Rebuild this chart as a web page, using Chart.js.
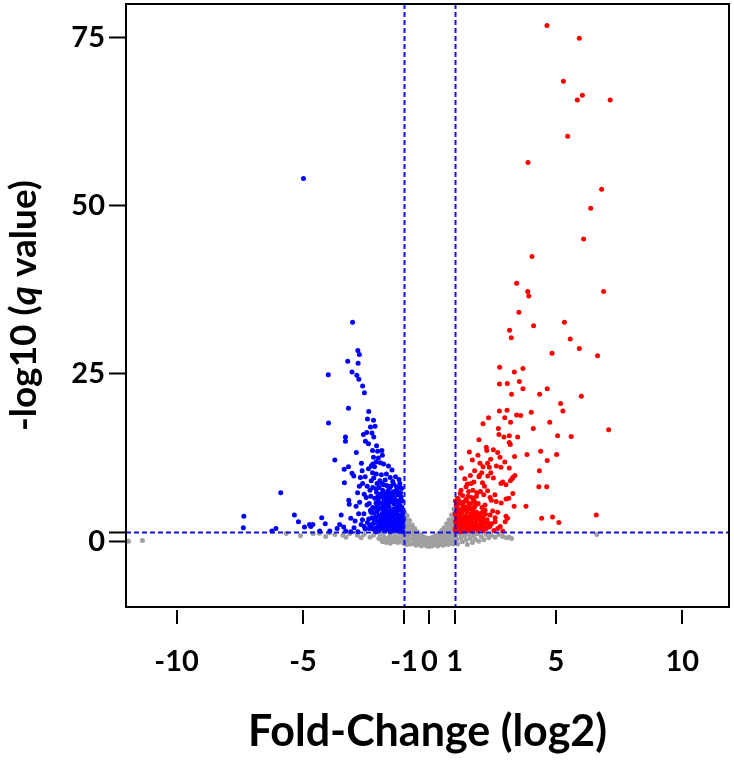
<!DOCTYPE html>
<html><head><meta charset="utf-8">
<script src="https://cdn.jsdelivr.net/npm/chart.js@4.4.1/dist/chart.umd.min.js"></script>
<style>html,body{margin:0;padding:0;background:#fff;}#wrap{width:734px;height:763px;}</style>
</head><body><div id="wrap"><canvas id="c" width="734" height="763"></canvas></div>
<script>
const xTickValues = [-10, -5, -1, 0, 1, 5, 10];
const xTickLabels = ['-10', '-5', '-1', '0', '1', '5', '10'];
const yTickValues = [0, 1.3, 25, 50, 75];
const yTickLabels = ['0', '', '25', '50', '75'];
const foldChangeCut = [-1, 1];
const qValueCut = [1.3];
const xTitle = 'Fold-Change (log2)';
const yTitleParts = ['-log10 (', 'q', ' value)'];

// down-regulated (blue)
const downPoints = [
[-4.98,54.0],[-3.04,32.6],[-2.83,28.4],[-2.77,27.8],[-3.23,26.8],[-2.82,26.5],[-4.00,24.8],[-3.06,25.2],[-2.87,24.7],[-2.79,24.1],
[-2.64,23.1],[-2.57,22.1],[-3.20,19.8],[-2.40,19.3],[-2.45,18.2],[-2.21,18.0],[-3.99,17.6],[-2.33,17.0],[-2.15,17.1],[-2.61,15.9],
[-2.48,16.2],[-2.27,16.1],[-2.20,15.5],[-3.32,15.5],[-3.32,14.9],[-2.53,14.9],[-2.41,14.5],[-2.09,14.2],[-2.89,13.2],[-2.25,13.5],
[-2.05,13.4],[-1.88,13.5],[-1.86,12.8],[-2.21,12.5],[-2.02,12.4],[-3.74,12.1],[-2.11,11.8],[-1.94,11.7],[-2.24,11.5],[-2.30,11.2],
[-2.17,11.1],[-1.81,11.5],[-3.20,11.1],[-3.37,10.7],[-3.06,10.1],[-2.99,9.7],[-2.69,11.6],[-2.66,10.5],[-2.73,9.5],[-2.54,9.6],
[-2.41,10.8],[-2.25,10.2],[-2.10,10.0],[-1.90,9.9],[-1.70,10.0],[-1.55,9.5],[-3.36,8.7],[-2.64,8.6],[-2.46,8.2],[-2.77,8.2],
[-2.24,8.0],[-1.99,8.0],[-1.82,8.4],[-1.69,8.3],[-1.53,8.2],[-1.42,8.5],[-2.84,7.2],[-2.58,7.0],[-2.09,7.3],[-1.89,7.0],
[-1.74,7.1],[-1.53,7.2],[-1.40,7.4],[-1.27,7.3],[-3.19,6.1],[-2.76,5.8],[-2.47,5.4],[-3.17,5.5],[-2.11,5.7],[-1.85,5.6],
[-1.66,5.5],[-1.40,5.7],[-1.18,6.1],[-2.80,4.1],[-2.59,4.1],[-2.31,4.3],[-2.04,4.7],[-1.75,4.0],[-1.55,4.5],[-1.35,4.6],
[-1.12,4.7],[-1.07,4.0],[-3.49,3.9],[-3.11,3.4],[-2.94,3.0],[-5.34,3.9],[-5.18,2.9],[-4.69,2.2],[-4.61,2.5],[-4.26,3.5],
[-4.12,2.6],[-3.94,1.5],[-3.65,1.9],[-3.55,2.5],[-3.39,2.1],[-3.31,1.5],[-3.11,1.4],[-2.98,2.0],[-2.83,1.4],[-2.70,2.5],
[-2.54,1.8],[-2.37,1.9],[-2.15,1.5],[-1.91,2.0],[-1.71,1.8],[-1.45,2.5],[-1.27,1.5],[-1.11,3.0],[-5.88,7.2],[-7.34,3.7],
[-7.36,2.0],[-6.23,1.5],[-6.07,1.9],[-4.94,2.1],[-4.74,2.5],[-4.34,1.5],
[-1.05,1.4],[-1.08,2.1],[-1.06,2.8],[-1.10,3.5],[-1.04,4.3],[-1.09,5.1],[-1.13,1.8],[-1.16,2.5],[-1.19,3.2],[-1.15,3.9],
[-1.22,4.6],[-1.18,5.4],[-1.21,1.5],[-1.26,2.2],[-1.28,2.9],[-1.24,3.6],[-1.30,4.2],[-1.27,5.0],[-1.33,1.9],[-1.36,2.6],
[-1.38,3.3],[-1.35,4.0],[-1.41,4.8],[-1.39,5.5],[-1.44,1.6],[-1.47,2.3],[-1.49,3.0],[-1.46,3.7],[-1.52,4.4],[-1.50,6.2],
[-1.55,1.4],[-1.58,2.0],[-1.60,2.7],[-1.57,3.4],[-1.62,4.1],[-1.59,5.1],[-1.65,1.7],[-1.68,2.4],[-1.71,3.1],[-1.67,3.8],
[-1.73,4.6],[-1.70,5.8],[-1.76,1.5],[-1.79,2.2],[-1.81,2.9],[-1.78,3.5],[-1.84,4.3],[-1.80,6.3],[-1.87,1.9],[-1.90,2.6],
[-1.92,3.3],[-1.89,4.0],[-1.95,4.9],[-1.93,6.6],[-1.98,1.6],[-2.01,2.3],[-2.03,3.0],[-2.00,3.8],[-2.06,5.2],[-2.02,6.0],
[-2.10,1.4],[-2.13,2.0],[-2.15,2.8],[-2.12,3.6],[-2.18,4.9],[-2.16,6.4],[-2.22,1.8],[-2.25,2.6],[-2.28,3.5],[-2.24,5.0],
[-2.32,6.7],[-2.36,2.3],[-2.40,3.3],[-2.38,5.6],[-1.12,6.6],[-1.25,6.9],[-1.37,6.4],[-1.63,6.8],[-1.85,7.6],[-2.07,8.6],
[-1.30,8.1],[-1.58,7.9],[-1.96,9.0],[-1.20,9.2],[-1.75,9.1],[-2.20,9.4],[-1.48,10.6],[-1.62,11.2],[-2.35,7.6],[-2.50,6.5],
[-2.65,3.2],[-2.90,5.2],[-2.45,2.8],[-2.58,2.2],
[-1.07,6.0],[-1.14,7.2],[-1.09,7.9],[-1.17,8.6],[-1.23,5.8],[-1.32,5.9],[-1.29,7.6],[-1.43,6.9],[-1.45,8.9],[-1.54,5.8],
[-1.56,6.5],[-1.66,6.2],[-1.64,7.5],[-1.77,5.2],[-1.76,6.8],[-1.86,5.0],[-1.94,5.7],[-1.98,7.0],[-2.05,6.6],[-2.08,4.4],
[-2.20,4.2],[-2.11,7.8],[-1.10,1.9],[-1.20,2.5],[-1.32,3.0],[-1.43,4.2],[-1.53,1.9],[-1.63,3.0],[-1.74,2.7],[-1.86,3.7],
[-1.96,2.8],[-2.07,1.8],[-2.19,3.2],[-2.30,2.0],[-2.33,4.6],[-1.15,8.0],[-1.34,9.6],[-1.88,8.6],[-2.30,9.0],[-1.03,3.2]
];

// up-regulated (red)
const upPoints = [
[4.65,76.8],[5.93,74.9],[5.30,68.5],[6.05,66.4],[5.85,65.7],[7.15,65.7],[5.47,60.3],[3.90,56.4],[6.81,52.4],[6.38,49.6],
[6.10,45.0],[4.06,42.4],[3.45,38.4],[3.89,37.2],[6.89,37.2],[3.93,36.5],[3.54,34.1],[4.12,32.1],[5.34,32.6],[3.17,31.4],
[3.24,30.3],[5.57,30.1],[5.93,28.7],[6.65,27.6],[4.85,28.0],[2.78,25.9],[3.36,25.2],[3.70,25.7],[2.77,23.4],[3.08,23.5],
[3.56,23.8],[3.70,22.7],[3.25,21.9],[4.36,21.9],[4.66,22.7],[6.01,21.6],[5.19,20.5],[5.28,19.4],[2.77,19.4],[3.07,19.5],
[4.03,19.2],[2.34,18.4],[2.98,18.4],[3.45,18.8],[3.61,18.7],[2.12,17.5],[3.21,17.7],[4.76,17.7],[2.73,16.8],[4.11,16.8],
[7.09,16.6],[2.75,15.9],[2.95,15.5],[3.16,15.7],[3.49,15.5],[5.07,15.7],[5.61,15.6],[1.96,15.1],[3.16,14.7],[3.20,14.4],
[2.27,13.5],[2.53,13.6],[2.70,13.2],[1.92,12.8],[2.42,12.2],[2.79,12.5],[2.98,11.8],[3.37,12.6],[3.86,12.9],[4.40,13.4],
[5.03,12.9],[4.66,12.0],[2.00,11.6],[2.30,11.6],[2.12,11.1],[2.37,11.0],[2.65,11.2],[2.83,11.0],[3.16,10.9],[1.79,10.5],
[2.07,10.2],[2.43,10.2],[3.38,9.8],[4.35,10.5],[1.62,9.8],[1.96,9.6],[2.31,9.7],[2.53,9.4],[3.27,9.3],[1.76,8.8],
[2.10,8.7],[2.90,8.8],[3.20,9.0],[3.30,9.5],[4.33,8.1],[4.64,8.1],[1.45,8.1],[1.72,7.6],[2.02,7.4],[2.30,7.5],
[2.83,8.6],[3.03,8.4],[1.53,6.7],[1.86,6.7],[2.15,6.9],[2.40,6.5],[2.59,6.9],[3.30,7.1],[1.48,6.0],[1.78,5.9],
[2.45,6.1],[2.64,5.9],[2.84,5.7],[3.14,6.4],[3.03,6.3],[3.35,5.2],[3.82,5.2],[2.20,4.6],[2.50,4.5],[2.70,4.3],
[3.09,3.4],[3.03,3.7],[6.60,3.9],[4.44,3.4],[4.87,3.6],[5.12,2.8],[2.20,3.0],[2.40,2.3],[2.60,2.9],[2.80,2.2],[3.00,2.9],
[1.04,1.5],[1.06,2.2],[1.03,2.9],[1.08,3.6],[1.05,4.3],[1.10,5.0],[1.14,1.8],[1.17,2.5],[1.13,3.2],[1.19,3.9],
[1.16,4.7],[1.21,5.6],[1.25,1.4],[1.28,2.1],[1.24,2.8],[1.30,3.5],[1.27,4.2],[1.33,5.2],[1.36,1.7],[1.39,2.4],
[1.35,3.1],[1.42,3.8],[1.38,4.6],[1.44,6.2],[1.47,1.5],[1.50,2.2],[1.46,2.9],[1.53,3.6],[1.49,4.4],[1.56,5.4],
[1.58,1.8],[1.61,2.5],[1.57,3.2],[1.64,4.0],[1.60,4.9],[1.67,6.5],[1.69,1.5],[1.72,2.2],[1.68,2.9],[1.75,3.7],
[1.71,4.5],[1.80,1.9],[1.83,2.7],[1.79,3.4],[1.86,4.3],[1.82,5.3],[1.91,1.6],[1.94,2.4],[1.90,3.2],[1.97,4.1],
[1.93,5.6],[2.02,2.0],[2.05,2.9],[2.01,3.8],[2.08,5.0],[2.13,1.5],[2.16,2.6],[2.12,3.5],[2.20,5.4],[2.25,1.9],
[2.28,3.2],[2.36,2.1],[2.40,3.9],[2.55,1.6],[2.70,1.9],[2.90,1.5],[1.12,6.4],[1.22,7.1],[1.31,6.8],[1.55,7.4],
[1.74,6.2],[1.88,7.2],[2.18,8.2],[1.65,8.6],[1.40,9.3],[1.98,9.8],[1.26,10.9],[1.70,12.1],[2.25,14.0],[1.58,13.3],
[1.02,1.8],[1.09,2.6],[1.07,3.3],[1.02,4.0],[1.12,4.6],[1.06,5.4],[1.03,6.0],[1.19,2.0],[1.22,3.4],[1.23,4.4],
[1.18,6.0],[1.31,1.9],[1.33,2.6],[1.29,4.8],[1.35,5.8],[1.41,2.0],[1.43,3.4],[1.41,5.1],[1.52,1.9],[1.55,3.1],
[1.54,4.8],[1.63,1.6],[1.66,3.5],[1.64,5.6],[1.74,2.6],[1.77,4.1],[1.77,5.0],[1.86,2.2],[1.88,3.7],[1.98,1.8],
[1.99,3.3],[2.08,2.4],[2.10,4.3],[2.19,2.1],[2.22,4.0],[2.32,2.7],[2.46,2.6],[2.60,3.5],[1.25,7.6],[1.50,8.5]
];

// not significant (grey)
const nsPoints = [
[-11.90,0.0],[-11.35,0.1],
[-5.66,1.15],[-4.60,1.1],[-4.35,1.2],[-3.95,1.25],[-3.74,1.0],[-3.42,0.9],[-3.16,1.1],[-2.85,0.9],[-2.58,1.0],[-2.21,0.9],
[-1.95,1.05],[-5.10,0.8],[-4.10,0.7],[-3.30,0.6],[-2.70,0.5],[-2.35,0.6],
[-2.00,0.4],[-1.90,0.2],[-1.80,0.7],[-1.75,0.3],[-1.65,0.0],[-1.60,0.6],[-1.55,1.0],[-1.50,0.2],[-1.45,0.5],[-1.40,-0.1],
[-1.35,0.8],[-1.30,0.3],[-1.25,-0.2],[-1.20,0.6],[-1.15,1.1],[-1.12,0.0],[-1.08,0.5],[-1.03,-0.3],[-1.02,0.9],[-1.85,-0.1],
[-1.70,-0.2],[-1.55,-0.3],
[-0.98,4.3],[-0.95,3.6],[-0.97,2.9],[-0.94,2.2],[-0.96,1.5],[-0.93,0.8],[-0.95,0.1],[-0.92,-0.5],[-0.88,3.8],[-0.86,3.0],
[-0.85,2.3],[-0.87,1.6],[-0.84,0.9],[-0.86,0.2],[-0.83,-0.4],[-0.78,3.1],[-0.77,2.4],[-0.76,1.7],[-0.79,1.0],[-0.75,0.3],
[-0.74,-0.4],[-0.68,2.4],[-0.66,1.8],[-0.67,1.1],[-0.65,0.4],[-0.64,-0.3],[-0.58,1.9],[-0.56,1.3],[-0.57,0.6],[-0.55,-0.1],
[-0.53,-0.6],[-0.47,1.4],[-0.46,0.8],[-0.44,0.2],[-0.43,-0.4],[-0.36,1.0],[-0.35,0.4],[-0.33,-0.2],[-0.32,-0.7],[-0.25,0.7],
[-0.24,0.1],[-0.22,-0.5],[-0.14,0.5],[-0.13,-0.1],[-0.11,-0.7],[-0.03,0.4],[-0.02,-0.2],[0.00,-0.8],
[0.08,0.5],[0.09,-0.1],[0.11,-0.7],[0.18,0.7],[0.19,0.1],[0.21,-0.5],[0.28,0.9],[0.29,0.3],[0.31,-0.3],[0.33,-0.7],
[0.38,1.2],[0.39,0.6],[0.41,0.0],[0.43,-0.5],[0.48,1.6],[0.49,1.0],[0.51,0.4],[0.52,-0.2],[0.54,-0.6],[0.58,2.0],
[0.59,1.4],[0.61,0.8],[0.62,0.2],[0.64,-0.4],[0.68,2.6],[0.69,1.9],[0.71,1.2],[0.72,0.6],[0.74,0.0],[0.75,-0.5],
[0.78,3.2],[0.79,2.5],[0.81,1.8],[0.82,1.1],[0.84,0.4],[0.85,-0.3],[0.88,3.9],[0.89,3.1],[0.91,2.4],[0.92,1.7],
[0.93,1.0],[0.94,0.3],[0.95,-0.4],[0.97,4.8],[0.98,4.1],[0.98,3.4],[0.99,2.6],[0.97,1.9],[0.99,1.2],[0.96,0.5],[0.98,-0.2],
[1.05,0.9],[1.10,0.3],[1.12,-0.4],[1.20,1.1],[1.25,0.5],[1.30,-0.1],[1.38,0.8],[1.45,0.2],[1.50,-0.5],[1.55,1.0],
[1.62,0.4],[1.70,-0.2],[1.75,0.9],[1.82,0.3],[1.90,1.1],[1.95,0.0],[2.05,0.7],[2.15,0.2],[2.25,1.0],[2.35,0.5],
[2.45,0.9],[2.60,0.6],[2.75,1.0],[2.90,0.7],[3.05,0.5],[3.15,0.6],[3.25,0.4],[6.62,1.0]
];

const FONT = 'Lato, "Open Sans", sans-serif';
const toXY = arr => arr.map(p => ({x: p[0], y: p[1]}));

const framePlugin = {
  id: 'frame',
  afterDatasetsDraw(chart) {
    const ctx = chart.ctx, a = chart.chartArea;
    const xs = chart.scales.x, ys = chart.scales.y;
    ctx.save();
    ctx.beginPath(); ctx.rect(a.left, a.top, a.right - a.left, a.bottom - a.top); ctx.clip();
    ctx.strokeStyle = '#1010ee'; ctx.lineWidth = 2; ctx.setLineDash([5, 3]);
    foldChangeCut.forEach(v => {
      const px = Math.round(xs.getPixelForValue(v)) + 0.5;
      ctx.beginPath(); ctx.moveTo(px, a.top); ctx.lineTo(px, a.bottom); ctx.stroke();
    });
    qValueCut.forEach(v => {
      const py = Math.round(ys.getPixelForValue(v)) + 0.5;
      ctx.beginPath(); ctx.moveTo(a.left, py); ctx.lineTo(a.right, py); ctx.stroke();
    });
    ctx.restore();
  },
  afterDraw(chart) {
    const ctx = chart.ctx, a = chart.chartArea;
    const xs = chart.scales.x;
    ctx.save();
    ctx.strokeStyle = '#000'; ctx.lineWidth = 2; ctx.setLineDash([]);
    ctx.strokeRect(a.left, a.top, a.right - a.left, a.bottom - a.top);
    xTickValues.forEach(v => {
      const px = Math.round(xs.getPixelForValue(v));
      ctx.beginPath(); ctx.moveTo(px, a.bottom + 3); ctx.lineTo(px, a.bottom + 17); ctx.stroke();
    });
    // y axis title with italic q
    const fonts = ['bold 37px ' + FONT, 'italic bold 37px ' + FONT, 'bold 37px ' + FONT];
    let widths = yTitleParts.map((t, i) => { ctx.font = fonts[i]; return ctx.measureText(t).width; });
    const total = widths.reduce((s, w) => s + w, 0);
    ctx.translate(24, (a.top + a.bottom) / 2);
    ctx.rotate(-Math.PI / 2);
    ctx.fillStyle = '#000'; ctx.textBaseline = 'middle'; ctx.textAlign = 'left';
    let x0 = -total / 2;
    yTitleParts.forEach((t, i) => { ctx.font = fonts[i]; ctx.fillText(t, x0, 0); x0 += widths[i]; });
    ctx.restore();
  }
};

new Chart(document.getElementById('c'), {
  type: 'scatter',
  data: {
    datasets: [
      {label: 'down', data: toXY(downPoints), backgroundColor: '#0000ff', pointRadius: 2.5, borderWidth: 0, order: 1},
      {label: 'up', data: toXY(upPoints), backgroundColor: '#ff0000', pointRadius: 2.5, borderWidth: 0, order: 1},
      {label: 'ns', data: toXY(nsPoints), backgroundColor: '#a0a0a0', pointRadius: 2.5, borderWidth: 0, order: 2}
    ]
  },
  options: {
    responsive: false, animation: false, devicePixelRatio: 1,
    layout: {padding: {top: 1, right: 5, bottom: 0, left: 0}},
    plugins: {legend: {display: false}, tooltip: {enabled: false}},
    scales: {
      x: {
        type: 'linear', min: -12, max: 11.85,
        afterFit: s => { s.height = 156; s.paddingLeft = 0; s.paddingRight = 0; },
        afterBuildTicks: s => { s.ticks = xTickValues.map(v => ({value: v})); },
        ticks: {autoSkip: false, maxRotation: 0, padding: 20, color: '#000',
          font: {family: FONT, size: 29, weight: 'bold'},
          callback: (v, i) => xTickLabels[i]},
        grid: {drawOnChartArea: false, drawTicks: true, tickLength: 17, tickColor: 'rgba(0,0,0,0)', color: 'rgba(0,0,0,0)'},
        border: {display: false},
        title: {display: true, text: xTitle, color: '#000', font: {family: FONT, size: 43, weight: 'bold'}, padding: {top: 0, bottom: 5}}
      },
      y: {
        type: 'linear', min: -9.8, max: 80,
        afterFit: s => { s.width = 126; s.paddingTop = 0; s.paddingBottom = 0; },
        afterBuildTicks: s => { s.ticks = yTickValues.map(v => ({value: v})); },
        ticks: {autoSkip: false, padding: 4, color: '#000',
          font: {family: FONT, size: 29, weight: 'bold'},
          callback: (v, i) => yTickLabels[i]},
        grid: {drawOnChartArea: false, drawTicks: true, tickLength: 17, tickColor: '#000', tickWidth: 2, color: 'rgba(0,0,0,0)'},
        border: {display: false},
        title: {display: false}
      }
    }
  },
  plugins: [framePlugin]
});
</script></body></html>
